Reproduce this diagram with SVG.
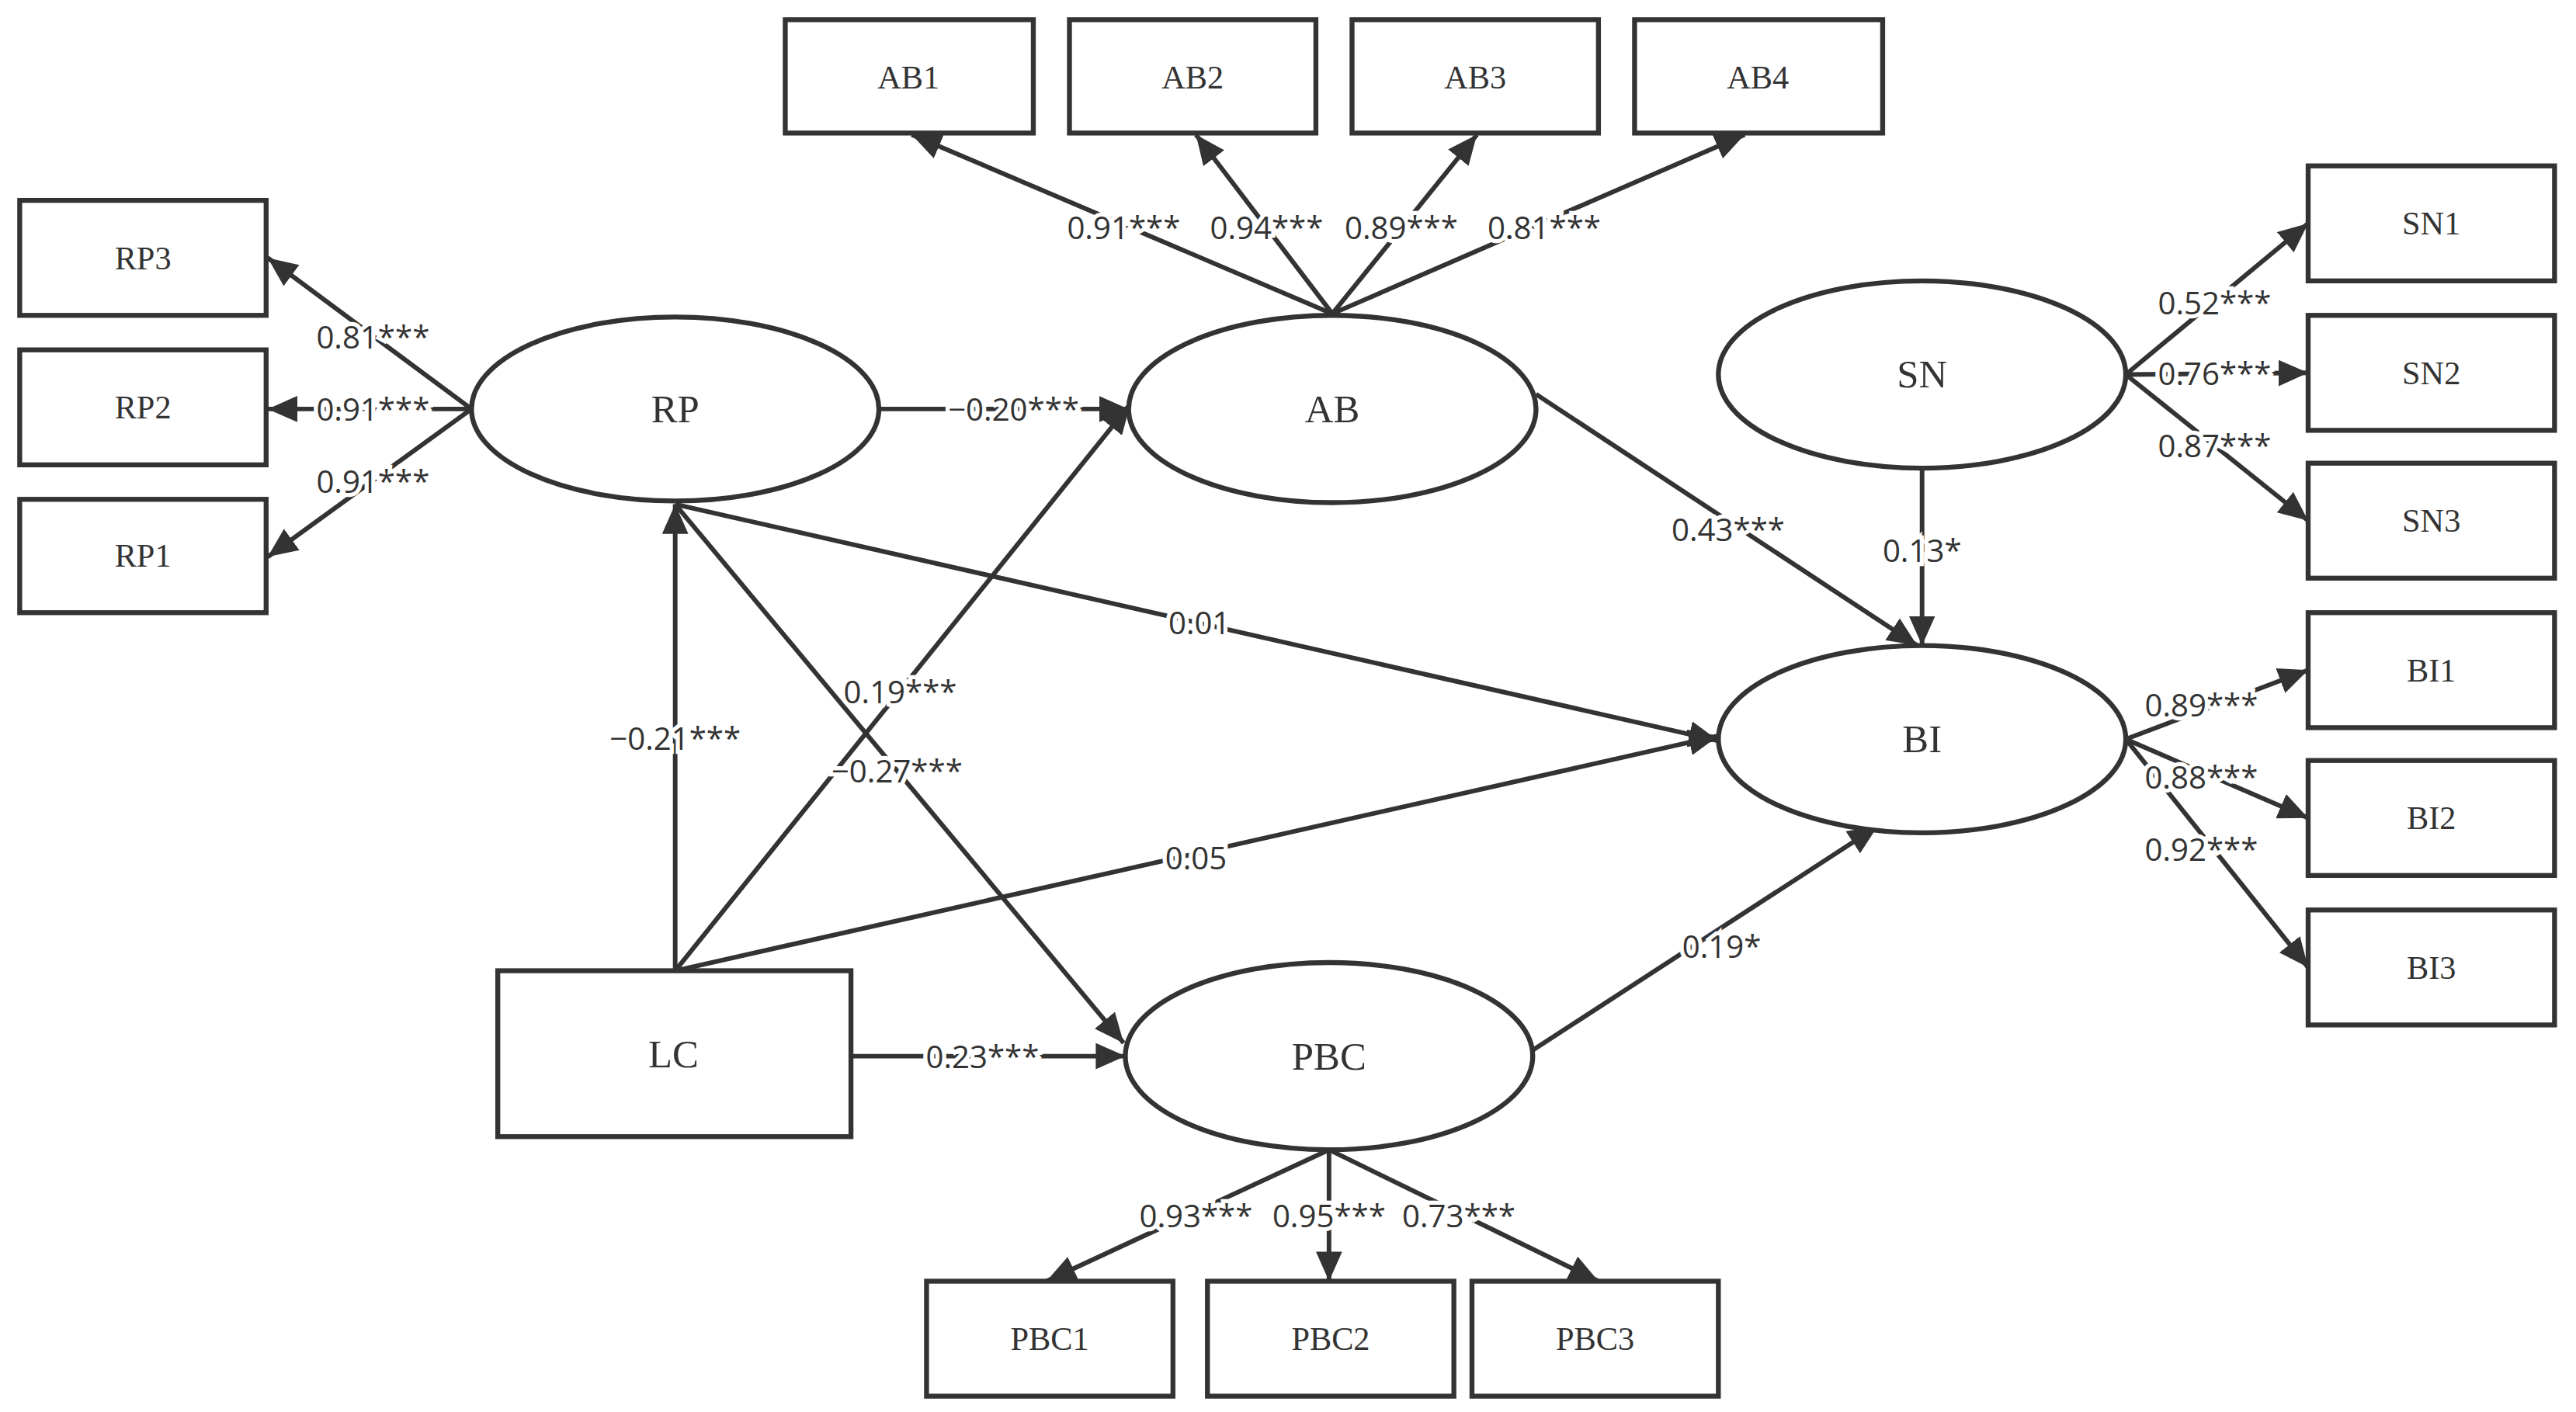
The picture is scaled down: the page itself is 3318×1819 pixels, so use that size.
<svg xmlns="http://www.w3.org/2000/svg" width="3318" height="1819" viewBox="0 0 3318 1819">
<style>
.b{fill:#fff;stroke:#333;stroke-width:3}
.n{font-family:"Liberation Serif",serif;font-size:24px;fill:#333;text-anchor:middle;dominant-baseline:central}
.c line{stroke:#333;stroke-width:2.8;marker-end:url(#a)}
.l{font-family:"Open Sans","DejaVu Sans",sans-serif;font-size:19px;fill:#333;text-anchor:middle;dominant-baseline:central;stroke:#fff;stroke-width:5;paint-order:stroke}
</style>
<defs><marker id="a" markerUnits="userSpaceOnUse" markerWidth="20" markerHeight="16" refX="18" refY="8" orient="auto"><path d="M0,0L18,8L0,16z" fill="#333"/></marker></defs>
<rect width="3318" height="1819" fill="#fff"/>
<g transform="scale(2.116)">
<g class="c">
<line x1="287" y1="249" x2="163" y2="157"/>
<line x1="287" y1="249" x2="163" y2="249"/>
<line x1="287" y1="249" x2="163" y2="339"/>
<line x1="811" y1="191" x2="555" y2="82"/>
<line x1="811" y1="191" x2="728" y2="82"/>
<line x1="811" y1="191" x2="899" y2="82"/>
<line x1="811" y1="191" x2="1062" y2="82"/>
<line x1="1294" y1="228" x2="1405" y2="136"/>
<line x1="1294" y1="228" x2="1405" y2="227"/>
<line x1="1294" y1="228" x2="1405" y2="317"/>
<line x1="1294" y1="450" x2="1405" y2="408"/>
<line x1="1294" y1="450" x2="1405" y2="498"/>
<line x1="1294" y1="450" x2="1405" y2="589"/>
<line x1="809" y1="700" x2="637" y2="780"/>
<line x1="809" y1="700" x2="809" y2="780"/>
<line x1="809" y1="700" x2="973" y2="780"/>
<line x1="536" y1="249" x2="687" y2="249"/>
<line x1="935" y1="240" x2="1167" y2="393"/>
<line x1="1170" y1="285" x2="1170" y2="393"/>
<line x1="411" y1="307" x2="1046" y2="451"/>
<line x1="411" y1="591" x2="1046" y2="448"/>
<line x1="411" y1="591" x2="411" y2="307"/>
<line x1="411" y1="591" x2="688" y2="246"/>
<line x1="411" y1="307" x2="684" y2="635"/>
<line x1="518" y1="643" x2="685" y2="643"/>
<line x1="932" y1="640" x2="1143" y2="503"/>
</g>
<g id="labels">
<text class="l" x="227" y="205">0.81***</text>
<text class="l" x="227" y="249">0.91***</text>
<text class="l" x="227" y="293">0.91***</text>
<text class="l" x="684" y="138">0.91***</text>
<text class="l" x="771" y="138">0.94***</text>
<text class="l" x="853" y="138">0.89***</text>
<text class="l" x="940" y="138">0.81***</text>
<text class="l" x="1348" y="184">0.52***</text>
<text class="l" x="1348" y="227">0.76***</text>
<text class="l" x="1348" y="271">0.87***</text>
<text class="l" x="1340" y="429">0.89***</text>
<text class="l" x="1340" y="473">0.88***</text>
<text class="l" x="1340" y="517">0.92***</text>
<text class="l" x="728" y="740">0.93***</text>
<text class="l" x="809" y="740">0.95***</text>
<text class="l" x="888" y="740">0.73***</text>
<text class="l" x="617" y="249">−0.20***</text>
<text class="l" x="1052" y="322">0.43***</text>
<text class="l" x="1170" y="335">0.13*</text>
<text class="l" x="730" y="379">0.01</text>
<text class="l" x="728" y="522">0.05</text>
<text class="l" x="411" y="449">−0.21***</text>
<text class="l" x="548" y="421">0.19***</text>
<text class="l" x="546" y="469">−0.27***</text>
<text class="l" x="598" y="643">0.23***</text>
<text class="l" x="1048" y="576">0.19*</text>
</g>
<g id="RP"><ellipse class="b" cx="411" cy="249" rx="124" ry="56"/><text class="n" x="411" y="249">RP</text></g>
<g id="AB"><ellipse class="b" cx="811" cy="249" rx="124" ry="57"/><text class="n" x="811" y="249">AB</text></g>
<g id="SN"><ellipse class="b" cx="1170" cy="228" rx="124" ry="57"/><text class="n" x="1170" y="228">SN</text></g>
<g id="BI"><ellipse class="b" cx="1170" cy="450" rx="124" ry="57"/><text class="n" x="1170" y="450">BI</text></g>
<g id="PBC"><ellipse class="b" cx="809" cy="643" rx="124" ry="57"/><text class="n" x="809" y="643">PBC</text></g>
<g id="LC"><rect class="b" x="303" y="591" width="215" height="101"/><text class="n" x="410" y="642">LC</text></g>
<g id="AB1"><rect class="b" x="478" y="12" width="151" height="69"/><text class="n" x="553" y="47" style="font-size:20px">AB1</text></g>
<g id="AB2"><rect class="b" x="651" y="12" width="150" height="69"/><text class="n" x="726" y="47" style="font-size:20px">AB2</text></g>
<g id="AB3"><rect class="b" x="823" y="12" width="150" height="69"/><text class="n" x="898" y="47" style="font-size:20px">AB3</text></g>
<g id="AB4"><rect class="b" x="995" y="12" width="151" height="69"/><text class="n" x="1070" y="47" style="font-size:20px">AB4</text></g>
<g id="RP3"><rect class="b" x="12" y="122" width="150" height="70"/><text class="n" x="87" y="157" style="font-size:20px">RP3</text></g>
<g id="RP2"><rect class="b" x="12" y="213" width="150" height="70"/><text class="n" x="87" y="248" style="font-size:20px">RP2</text></g>
<g id="RP1"><rect class="b" x="12" y="304" width="150" height="69"/><text class="n" x="87" y="338" style="font-size:20px">RP1</text></g>
<g id="SN1"><rect class="b" x="1405" y="101" width="150" height="70"/><text class="n" x="1480" y="136" style="font-size:20px">SN1</text></g>
<g id="SN2"><rect class="b" x="1405" y="192" width="150" height="70"/><text class="n" x="1480" y="227" style="font-size:20px">SN2</text></g>
<g id="SN3"><rect class="b" x="1405" y="282" width="150" height="70"/><text class="n" x="1480" y="317" style="font-size:20px">SN3</text></g>
<g id="BI1"><rect class="b" x="1405" y="373" width="150" height="70"/><text class="n" x="1480" y="408" style="font-size:20px">BI1</text></g>
<g id="BI2"><rect class="b" x="1405" y="463" width="150" height="70"/><text class="n" x="1480" y="498" style="font-size:20px">BI2</text></g>
<g id="BI3"><rect class="b" x="1405" y="554" width="150" height="70"/><text class="n" x="1480" y="589" style="font-size:20px">BI3</text></g>
<g id="PBC1"><rect class="b" x="564" y="780" width="150" height="70"/><text class="n" x="639" y="815" style="font-size:20px">PBC1</text></g>
<g id="PBC2"><rect class="b" x="735" y="780" width="150" height="70"/><text class="n" x="810" y="815" style="font-size:20px">PBC2</text></g>
<g id="PBC3"><rect class="b" x="896" y="780" width="150" height="70"/><text class="n" x="971" y="815" style="font-size:20px">PBC3</text></g>
</g>
</svg>
